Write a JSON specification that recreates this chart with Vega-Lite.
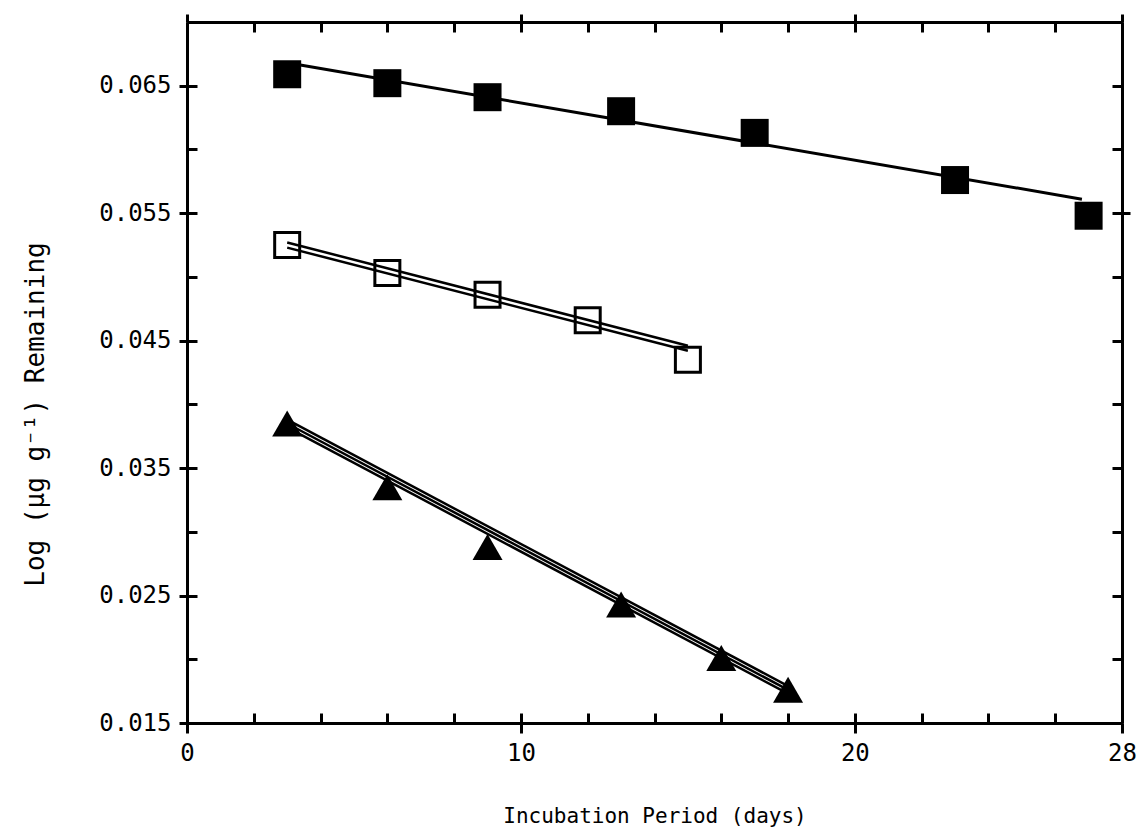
{
  "$schema": "https://vega.github.io/schema/vega-lite/v6.json",
  "autosize": "none",
  "width": 935,
  "height": 701,
  "padding": {"left": 187, "top": 22, "right": 19, "bottom": 117},
  "background": "white",
  "config": {
    "view": {"stroke": null},
    "axis": {
      "grid": false,
      "domainColor": "black",
      "domainWidth": 3,
      "tickColor": "black",
      "tickWidth": 3,
      "labelColor": "black",
      "titleColor": "black",
      "labelFont": "DejaVu Sans Mono",
      "titleFont": "DejaVu Sans Mono",
      "labelFontSize": 24,
      "titleFontSize": 21,
      "titleFontWeight": "normal"
    }
  },
  "datasets": {
    "points": [
      {"series": "filled", "day": 3, "value": 0.0659},
      {"series": "filled", "day": 6, "value": 0.0652},
      {"series": "filled", "day": 9, "value": 0.0641},
      {"series": "filled", "day": 13, "value": 0.0630},
      {"series": "filled", "day": 17, "value": 0.0613},
      {"series": "filled", "day": 23, "value": 0.0576},
      {"series": "filled", "day": 27, "value": 0.0548},
      {"series": "open", "day": 3, "value": 0.0525},
      {"series": "open", "day": 6, "value": 0.0503},
      {"series": "open", "day": 9, "value": 0.0486},
      {"series": "open", "day": 12, "value": 0.0466},
      {"series": "open", "day": 15, "value": 0.0435},
      {"series": "triangle", "day": 3, "value": 0.0385},
      {"series": "triangle", "day": 6, "value": 0.0335},
      {"series": "triangle", "day": 9, "value": 0.0288},
      {"series": "triangle", "day": 13, "value": 0.0243},
      {"series": "triangle", "day": 16, "value": 0.0201},
      {"series": "triangle", "day": 18, "value": 0.0176}
    ],
    "lines": [
      {"group": "filled", "line": "f1", "day": 3, "value": 0.0668},
      {"group": "filled", "line": "f1", "day": 26.8, "value": 0.0561},
      {"group": "open", "line": "o1", "day": 3, "value": 0.0527},
      {"group": "open", "line": "o1", "day": 15, "value": 0.0446},
      {"group": "open", "line": "o2", "day": 3, "value": 0.0523},
      {"group": "open", "line": "o2", "day": 15, "value": 0.0442},
      {"group": "triangle", "line": "t1", "day": 3, "value": 0.0388},
      {"group": "triangle", "line": "t1", "day": 18, "value": 0.0179},
      {"group": "triangle", "line": "t2", "day": 3, "value": 0.0385},
      {"group": "triangle", "line": "t2", "day": 18, "value": 0.0176},
      {"group": "triangle", "line": "t3", "day": 3, "value": 0.0382},
      {"group": "triangle", "line": "t3", "day": 18, "value": 0.0173}
    ]
  },
  "resolve": {"axis": {"x": "independent", "y": "independent"}},
  "layer": [
    {
      "data": {"name": "lines"},
      "transform": [{"filter": "datum.group == 'filled'"}],
      "mark": {"type": "line", "color": "black", "strokeWidth": 3},
      "encoding": {
        "detail": {"field": "line"},
        "x": {"field": "day", "type": "quantitative", "scale": {"domain": [0, 28], "nice": false, "zero": false},
          "axis": {"orient": "top", "values": [2,4,6,8,10,12,14,16,18,20,22,24,26], "tickSize": -10, "labels": false, "title": null}},
        "y": {"field": "value", "type": "quantitative", "scale": {"domain": [0.015, 0.070], "nice": false, "zero": false},
          "axis": {"orient": "right", "values": [0.02,0.025,0.03,0.035,0.04,0.045,0.05,0.055,0.06,0.065], "tickSize": -10, "labels": false, "title": null}}
      }
    },
    {
      "data": {"name": "lines"},
      "transform": [{"filter": "datum.group == 'open'"}],
      "mark": {"type": "line", "color": "black", "strokeWidth": 2.5},
      "encoding": {
        "detail": {"field": "line"},
        "x": {"field": "day", "type": "quantitative",
          "axis": {"orient": "top", "values": [0, 10, 20, 28], "tickSize": 8, "labels": false, "title": null}},
        "y": {"field": "value", "type": "quantitative",
          "axis": {"orient": "right", "values": [0.055], "tickSize": 8, "labels": false, "title": null}}
      }
    },
    {
      "data": {"name": "lines"},
      "transform": [{"filter": "datum.group == 'triangle'"}],
      "mark": {"type": "line", "color": "black", "strokeWidth": 2.5},
      "encoding": {
        "detail": {"field": "line"},
        "x": {"field": "day", "type": "quantitative",
          "axis": {"orient": "bottom", "values": [2,4,6,8,10,12,14,16,18,20,22,24,26], "tickSize": -10, "labels": false, "title": null}},
        "y": {"field": "value", "type": "quantitative",
          "axis": {"orient": "left", "values": [0.02,0.025,0.03,0.035,0.04,0.045,0.05,0.055,0.06,0.065], "tickSize": -10, "labels": false, "title": null}}
      }
    },
    {
      "data": {"name": "points"},
      "transform": [{"filter": "datum.series == 'filled'"}],
      "mark": {"type": "point", "shape": "square", "filled": true, "color": "black", "size": 784, "opacity": 1},
      "encoding": {
        "x": {"field": "day", "type": "quantitative",
          "axis": {"orient": "bottom", "values": [0, 10, 20, 28], "tickSize": 10, "labelPadding": 8, "labelFlush": false, "title": "Incubation Period (days)", "titlePadding": 40}},
        "y": {"field": "value", "type": "quantitative",
          "axis": {"orient": "left", "values": [0.015, 0.025, 0.035, 0.045, 0.055, 0.065], "format": ".3f", "tickSize": 8, "labelPadding": 8, "title": "Log (µg g⁻¹) Remaining", "titleFontSize": 26, "titlePadding": 50, "titleY": 392}}
      }
    },
    {
      "data": {"name": "points"},
      "transform": [{"filter": "datum.series == 'open'"}],
      "mark": {"type": "point", "shape": "square", "filled": false, "color": "black", "size": 625, "strokeWidth": 3, "opacity": 1},
      "encoding": {
        "x": {"field": "day", "type": "quantitative", "axis": null},
        "y": {"field": "value", "type": "quantitative", "axis": null}
      }
    },
    {
      "data": {"name": "points"},
      "transform": [{"filter": "datum.series == 'triangle'"}],
      "mark": {"type": "point", "shape": "triangle-up", "filled": true, "color": "black", "size": 900, "opacity": 1},
      "encoding": {
        "x": {"field": "day", "type": "quantitative", "axis": null},
        "y": {"field": "value", "type": "quantitative", "axis": null}
      }
    }
  ]
}
